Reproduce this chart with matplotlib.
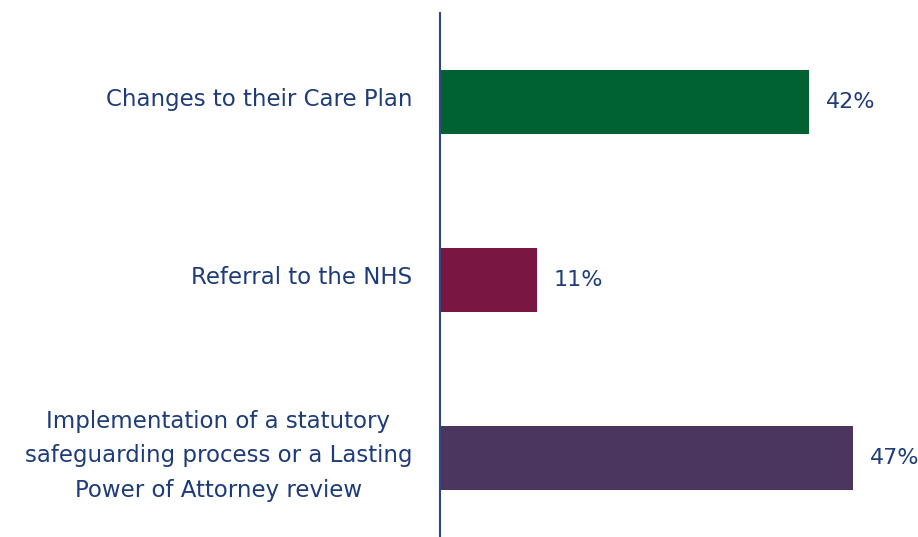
import matplotlib
matplotlib.use("Agg")
import matplotlib.pyplot as plt

categories = [
    "Changes to their Care Plan",
    "Referral to the NHS",
    "Implementation of a statutory\nsafeguarding process or a Lasting\nPower of Attorney review",
]
values = [42, 11, 47]
bar_colors = ["#006233", "#7a1642", "#4a365e"]

text_color = "#1e3c7b"
axis_color = "#2c4a8a"

W, H, DPI = 918, 537, 100
fig = plt.figure(figsize=(W / DPI, H / DPI), dpi=DPI)
fig.patch.set_facecolor("white")

left_px, top_px = 440, 13
ax = fig.add_axes([left_px / W, 0, 1 - left_px / W, 1 - top_px / H])

pos = list(range(len(categories)))
ax.barh(pos, values, height=0.36, color=bar_colors)
ax.set_ylim(2.444, -0.5)
ax.set_xlim(0, 54.4)

# value labels to the right of each bar
for p, v in zip(pos, values):
    ax.annotate(f"{v}%", xy=(v, p), xytext=(12, 0), textcoords="offset points",
                ha="left", va="center", fontsize=16, color=text_color)

# category labels to the left of the axis line
for p, c in zip(pos, categories):
    ax.annotate(c, xy=(0, p), xytext=(-20, 1.5), textcoords="offset points",
                ha="right", va="center", multialignment="center",
                linespacing=1.62, fontsize=16.5, color=text_color,
                annotation_clip=False)

ax.set_yticks([])
ax.set_xticks([])

for s in ["top", "right", "bottom"]:
    ax.spines[s].set_visible(False)
ax.spines["left"].set_color(axis_color)
ax.spines["left"].set_linewidth(1.5)

fig.savefig("out.png", dpi=DPI, facecolor="white")
